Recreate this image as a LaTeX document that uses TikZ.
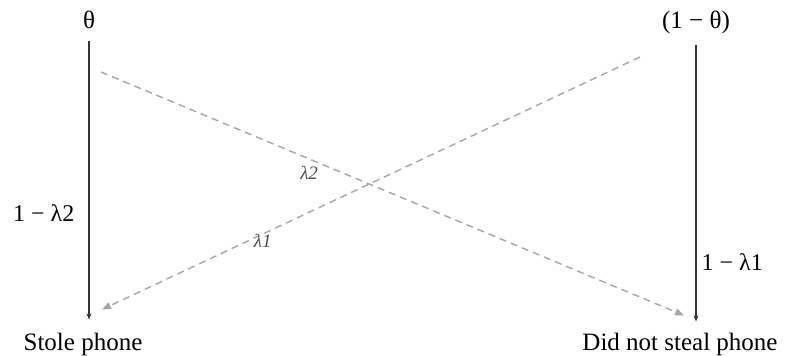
\documentclass[tikz,border=0pt]{standalone}
\usepackage{fontspec}
\setmainfont{Liberation Serif}
\usetikzlibrary{arrows.meta}
\begin{document}
\begin{tikzpicture}[x=1pt,y=-1pt,
  vyrok/.style={font=\fontsize{25}{30}\selectfont,inner sep=2pt,anchor=base},
  hrana/.style={font=\fontsize{24}{28}\selectfont,inner sep=1pt},
  pst/.style={font=\fontsize{19}{22}\selectfont\itshape,text=black!70,inner sep=1pt},
  plna/.style={line width=1.4pt,draw=black!80,-{Stealth[length=6pt,width=5pt]}},
  carky/.style={line width=1.4pt,draw=black!35,dash pattern=on 7pt off 5pt,
    -{Triangle[length=9pt,width=7pt]}}]
\useasboundingbox (0,0) rectangle (785,356);
% apriorni pravdepodobnosti nahore
\node[vyrok] (theta) at (89,28) {θ};
\node[vyrok] (ntheta) at (696,28) {(1 − θ)};
% skutecnost dole
\node[vyrok] (stole) at (83,350) {Stole phone};
\node[vyrok] (notstole) at (680,350) {Did not steal phone};
% pocatky krizicich se sipek
\coordinate (z2) at (101,72);
\coordinate (z1) at (640,57);
% svisle vetve
\draw[plna,shorten <=11pt,shorten >=11pt] (theta.south) -- (theta.south |- stole.north)
  node[hrana,pos=0.608,left=13pt] (l2) {1 − λ2};
\draw[plna,shorten <=9pt,shorten >=9pt] (ntheta.south) -- (ntheta.south |- notstole.north)
  node[hrana,pos=0.767,right=4pt] (l1) {1 − λ1};
% krizici se vetve
\draw[carky] (z2) -- ([shift={(4,-15)}]notstole.north)
  node[pst,pos=0.357,below=6pt] (c2) {λ2};
\draw[carky] (z1) -- ([shift={(19,-21)}]stole.north)
  node[pst,pos=0.73,right=5pt] (c1) {λ1};
\end{tikzpicture}
\end{document}
